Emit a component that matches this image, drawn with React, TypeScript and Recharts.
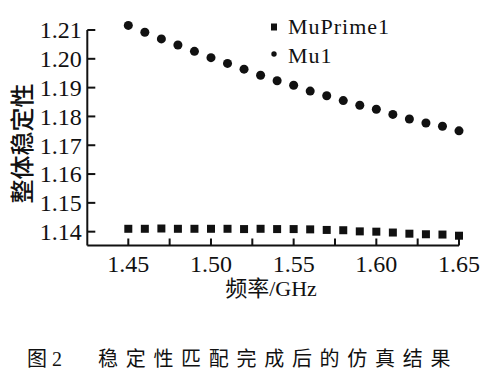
import React from "react";
import { ScatterChart, Scatter, XAxis, YAxis } from "recharts";

const freqs = [
  1.45, 1.46, 1.47, 1.48, 1.49, 1.5, 1.51, 1.52, 1.53, 1.54, 1.55, 1.56, 1.57,
  1.58, 1.59, 1.6, 1.61, 1.62, 1.63, 1.64, 1.65,
];
const muPrime1 = [
  1.141, 1.141, 1.1411, 1.141, 1.141, 1.141, 1.141, 1.1409, 1.141, 1.1409,
  1.1409, 1.1408, 1.1406, 1.1405, 1.1401, 1.14, 1.1397, 1.1393, 1.1391,
  1.139, 1.1386,
];
const mu1 = [
  1.2116, 1.2092, 1.2069, 1.2048, 1.2026, 1.2004, 1.1984, 1.1964, 1.1943,
  1.1924, 1.1908, 1.1888, 1.1872, 1.1855, 1.1839, 1.1825, 1.1807, 1.1791,
  1.1777, 1.1766, 1.175,
];
const xTicks = [1.45, 1.475, 1.5, 1.525, 1.55, 1.575, 1.6, 1.625, 1.65];
const yTicks = [1.14, 1.15, 1.16, 1.17, 1.18, 1.19, 1.2, 1.21];

const primeData = freqs.map((f, i) => ({ f, v: muPrime1[i] }));
const muData = freqs.map((f, i) => ({ f, v: mu1[i] }));

const serif = "'Liberation Serif', 'DejaVu Serif', serif";
const cjk = "'Liberation Serif', 'Noto Sans CJK SC', sans-serif";

// tick label offsets relative to the axis line
const Y_TICK_MARGIN = 2;
const X_TICK_MARGIN = 2;

// inward ticks, label only on every 0.05
function XTick(props: any) {
  const { x, y, payload } = props;
  const v: number = payload.value;
  const major = Math.round(v * 1000) % 50 === 0;
  const axisY = y - X_TICK_MARGIN;
  return (
    <g>
      <rect x={x - 1} y={axisY - 7} width={2} height={7} fill="#111" />
      {major && (
        <text x={x} y={axisY + 26.5} textAnchor="middle" fontFamily={serif} fontSize={24} fill="#111">
          {v.toFixed(2)}
        </text>
      )}
    </g>
  );
}

function YTick(props: any) {
  const { x, y, payload } = props;
  const v: number = payload.value;
  const axisX = x + Y_TICK_MARGIN;
  return (
    <g>
      <rect x={axisX} y={y - 1} width={8} height={2} fill="#111" />
      <text x={axisX - 5.6} y={y + 8.3} textAnchor="end" fontFamily={serif} fontSize={24} fill="#111">
        {v.toFixed(2)}
      </text>
    </g>
  );
}

export default function App() {
  return (
    <div style={{ position: "relative", width: 500, height: 374, background: "#fff" }}>
      <style>{"body{margin:0}.recharts-scatter{clip-path:none}"}</style>
      <ScatterChart
        width={500}
        height={374}
        margin={{ top: 30, right: 41, bottom: 68.5, left: 0 }}
      >
        <XAxis
          type="number"
          dataKey="f"
          domain={[1.4252, 1.65]}
          allowDataOverflow
          ticks={xTicks}
          interval={0}
          height={60}
          tickLine={false}
          tickSize={0}
          tickMargin={X_TICK_MARGIN}
          stroke="#111"
          strokeWidth={2}
          tick={<XTick />}
        />
        <YAxis
          type="number"
          dataKey="v"
          domain={[1.1352, 1.21]}
          allowDataOverflow
          ticks={yTicks}
          interval={0}
          width={87.3}
          tickLine={false}
          tickSize={0}
          tickMargin={Y_TICK_MARGIN}
          stroke="#111"
          strokeWidth={2}
          tick={<YTick />}
        />
        <Scatter
          name="MuPrime1"
          data={primeData}
          shape="square"
          fill="#111"
          isAnimationActive={false}
          {...({ size: 49 } as any)}
        />
        <Scatter
          name="Mu1"
          data={muData}
          shape="circle"
          fill="#111"
          isAnimationActive={false}
          {...({ size: 33 } as any)}
        />
      </ScatterChart>
      <svg
        width={500}
        height={374}
        style={{ position: "absolute", left: 0, top: 0, pointerEvents: "none" }}
      >
        {/* legend */}
        <rect x={271} y={23.5} width={6} height={7} fill="#111" />
        <text x={288} y={34} fontFamily={serif} fontSize={22} letterSpacing={1} fill="#111">
          MuPrime1
        </text>
        <circle cx={274} cy={54} r={2.7} fill="#111" />
        <text x={288} y={63} fontFamily={serif} fontSize={22} letterSpacing={1} fill="#111">
          Mu1
        </text>
        <text
          transform="translate(31,143.5) rotate(-90)"
          textAnchor="middle"
          fontFamily="'Noto Sans CJK SC', sans-serif"
          fontSize={24}
          fontWeight={500}
          fill="#111"
        >
          整体稳定性
        </text>
        <text x={271} y={296} textAnchor="middle" fontFamily={cjk} fontSize={22} fill="#111">
          频率/GHz
        </text>
        <text x={27} y={366} fontFamily={cjk} fontSize={20} fill="#111">
          图 2
        </text>
        <text x={98} y={366} fontFamily={cjk} fontSize={20} letterSpacing={7.7} fill="#111">
          稳定性匹配完成后的仿真结果
        </text>
      </svg>
    </div>
  );
}
